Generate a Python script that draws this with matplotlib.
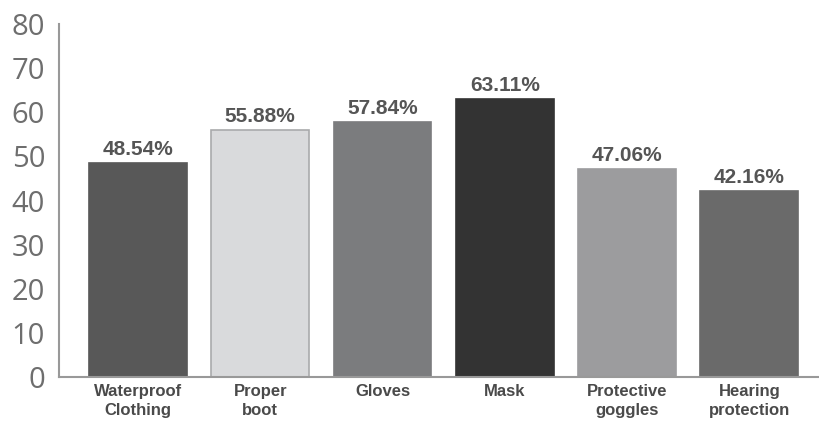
import matplotlib
matplotlib.use("Agg")
import matplotlib.pyplot as plt

categories = ["Waterproof\nClothing", "Proper\nboot", "Gloves", "Mask", "Protective\ngoggles", "Hearing\nprotection"]
values = [48.54, 55.88, 57.84, 63.11, 47.06, 42.16]
labels = ["48.54%", "55.88%", "57.84%", "63.11%", "47.06%", "42.16%"]
colors = ["#585858", "#d9dadc", "#7b7c7e", "#333333", "#9c9c9e", "#6a6a6a"]
edges = ["#585858", "#a9aaac", "#7b7c7e", "#333333", "#9c9c9e", "#6a6a6a"]
yticks = [0, 10, 20, 30, 40, 50, 60, 70, 80]

fig = plt.figure(figsize=(8.19, 4.23), dpi=100)
ax = fig.add_axes([59/819, 1 - 377/423, 1 - 59/819, (377 - 24)/423])
x = list(range(len(categories)))
bars = ax.bar(x, values, width=0.8, color=colors, edgecolor=edges, linewidth=1.2)
for xi, v, lab in zip(x, values, labels):
    ax.text(xi, v + 0.9, lab, ha="center", va="bottom", fontsize=15, fontweight="bold",
            color="#555555", family=["Liberation Sans", "DejaVu Sans"])
ax.set_ylim(0, 80)
ax.set_xlim(-0.646, 5.57)
ax.set_yticks(yticks)
ax.set_yticklabels([str(t) for t in yticks], fontsize=21, color="#6e6e6e",
                   family=["Open Sans", "DejaVu Sans"], fontweight="normal")
ax.set_xticks(x)
ax.set_xticklabels(categories, fontsize=12, fontweight="bold", color="#4a4a4a",
                   family=["Liberation Sans", "DejaVu Sans"], linespacing=1.35)
ax.tick_params(axis="both", length=0)
ax.tick_params(axis="y", pad=10)
ax.tick_params(axis="x", pad=5)
for s in ["top", "right"]:
    ax.spines[s].set_visible(False)
ax.spines["left"].set_color("#999999")
ax.spines["bottom"].set_color("#999999")
ax.spines["left"].set_linewidth(1.5)
ax.spines["bottom"].set_linewidth(1.5)
fig.savefig("out.png", dpi=100)
